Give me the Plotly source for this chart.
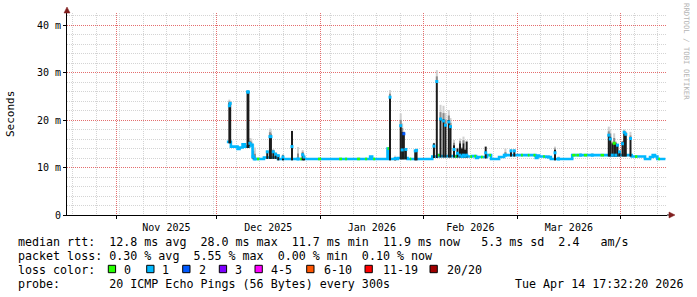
import numpy as np
import pandas as pd
import plotly.graph_objects as go

T0 = pd.Timestamp("2025-11-01 00:00")
RANGE_START_DAY = -14.76
RANGE_END_DAY = 164.88

# ---- baseline median runs (day offset from 2025-11-01, median ms, loss count class) ----
base_day = [33.1, 34.3, 36.3, 36.9, 37.8, 38.5, 39.8, 40.8, 41.2, 42.1, 42.8, 44.2, 48.4,
            55.0, 55.6, 60.4, 61.3, 66.7, 67.6, 68.5, 69.1, 72.1, 73.0, 74.5, 75.1, 76.0,
            76.6, 76.9, 77.5, 81.2, 81.7, 84.3, 87.2, 87.9, 88.3, 94.6, 96.3, 96.8, 101.5,
            102.0, 105.0, 106.0, 106.5, 107.2, 107.7, 108.2, 109.2, 109.7, 111.0, 111.7,
            112.2, 114.6, 116.1, 121.2, 121.7, 123.2, 123.7, 124.9, 125.5, 125.6, 126.1,
            126.6, 127.8, 128.3, 128.6, 130.1, 136.5, 137.5, 137.8, 138.5, 140.0, 141.0,
            145.0, 146.0, 154.3, 155.3, 156.0, 158.3, 159.8, 160.6, 161.3, 162.0, 162.3,
            162.8]
base_ms = [15.4, 14.4, 13.9, 14.2, 14.9, 14.4, 14.8, 12.2, 11.8, 11.8, 11.8, 12.1, 11.8,
           11.8, 11.8, 11.8, 11.8, 11.8, 11.8, 11.8, 11.8, 11.8, 11.8, 11.8, 11.8, 12.3,
           11.8, 11.8, 11.8, 14.0, 11.8, 12.0, 11.8, 11.8, 11.8, 12.3, 12.6, 12.4, 12.3,
           12.4, 12.3, 12.3, 12.4, 12.4, 12.0, 12.2, 12.2, 12.2, 12.6, 12.6,
           11.8, 12.2, 12.6, 12.6, 12.6, 12.6, 12.6, 12.6, 12.5, 12.0, 12.5,
           12.3, 12.3, 12.3, 12.2, 11.8, 12.6, 12.6, 12.6, 12.6, 12.6, 12.6,
           12.6, 12.6, 12.3, 12.3, 12.3, 11.8, 12.2, 12.6, 12.3, 11.8, 11.8,
           11.8]
base_loss = [1, 1, 1, 1, 1, 1, 1, 1, 1, 0, 1, 1, 1,
             0, 1, 0, 1, 0, 1, 0, 1, 0, 1, 0, 1, 1,
             1, 0, 1, 0, 1, 1, 1, 0, 1, 1, 0, 1, 0,
             1, 1, 0, 1, 0, 1, 1, 0, 1, 1, 0,
             1, 1, 1, 0, 1, 0, 1, 0, 1, 1, 1,
             1, 0, 1, 1, 1, 0, 1, 0, 1, 0, 1,
             0, 1, 1, 0, 1, 1, 1, 1, 1, 1, 0,
             1]
data_end_day = 164.4

# ---- short spikes (day, median ms, dense smoke top, smoke top, loss class) ----
spike_day = [33.85, 34.1, 39.3, 39.55, 40.0, 40.4, 41.0, 41.5, 45.2, 46.0, 46.3, 47.0, 47.7,
             48.5, 49.9, 52.6, 54.4, 55.8, 56.2, 81.95, 83.5, 85.15, 85.6, 86.1, 86.7, 89.5,
             89.9, 95.1, 95.96, 97.07, 97.96, 98.56, 99.55, 100.06, 101.11, 102.16, 102.9,
             103.5, 103.95, 104.4, 104.9, 110.6, 116.5, 118.17, 119.16, 129.4, 131.35,
             132.4, 139.0, 142.5, 147.45, 147.9, 148.5, 149.07, 149.55, 150.06, 150.66,
             151.56, 152.07, 152.54, 153.95]
spike_median = [23.0, 23.5, 25.9, 25.9, 15.1, 14.7, 12.3, 11.8, 13.3, 16.5, 16.5, 13.3, 12.8,
                12.5, 12.2, 14.4, 11.8, 12.7, 12.2, 24.8, 11.9, 18.8, 13.7, 17.1, 13.8, 13.5,
                13.6, 14.5, 28.1, 20.2, 19.8, 18.9, 19.6, 18.6, 13.8, 13.0, 12.6,
                12.3, 12.6, 12.4, 12.6, 13.1, 12.6, 13.5, 13.5, 12.2, 13.1,
                11.8, 12.6, 12.6, 16.8, 16.0, 12.6, 15.1, 12.6, 14.7, 13.3,
                15.0, 17.4, 17.0, 16.1]
spike_dark_top = [23.6, 23.5, 26.0, 26.0, 15.1, 14.9, 12.3, 11.8, 13.5, 16.8, 16.6, 13.5, 13.1,
                  12.6, 12.5, 17.7, 11.8, 13.0, 12.2, 24.9, 11.9, 18.9, 17.5, 17.4, 13.8, 13.6,
                  13.8, 15.1, 28.1, 20.4, 20.2, 18.9, 20.0, 18.6, 14.7, 14.0, 15.1,
                  14.0, 15.1, 13.7, 15.4, 14.4, 12.6, 13.7, 13.7, 12.2, 13.7,
                  11.8, 12.6, 12.6, 16.8, 16.5, 15.1, 15.4, 15.1, 14.7, 13.3,
                  15.4, 17.5, 17.2, 16.1]
spike_smoke_top = [24.3, 24.0, 26.3, 26.2, 16.2, 16.1, 14.9, 14.2, 13.5, 18.2, 17.8, 13.9, 13.1,
                   12.6, 12.8, 17.7, 14.3, 13.7, 12.8, 26.3, 12.5, 21.4, 19.3, 17.6, 13.9, 13.8,
                   14.0, 15.2, 30.5, 23.2, 23.0, 21.5, 22.1, 20.4, 15.8, 14.2, 16.1,
                   14.3, 16.5, 14.0, 15.7, 14.4, 14.0, 13.8, 13.8, 12.6, 14.4,
                   12.3, 13.0, 13.0, 18.6, 18.0, 15.5, 17.2, 15.5, 15.0, 13.5,
                   15.6, 18.0, 17.6, 17.5]
spike_loss = [1] * 23 + [2] + [1] * 29 + [0] + [1] * 7

loss_labels = ["0", "1", "2", "3", "4-5", "6-10", "11-19", "20/20"]
loss_colors = ["#26ff00", "#00b8ff", "#0059ff", "#7e00ff", "#ff00ff", "#ff5500", "#ff0000", "#a00000"]

y_tick_vals = [0, 10, 20, 30, 40]
y_tick_text = ["0", "10 m", "20 m", "30 m", "40 m"]

rtt_stats = ["12.8", "28.0", "11.7", "11.9", "5.3", "2.4"]
loss_stats = ["0.30", "5.55", "0.00", "0.10"]
probe_text = "20 ICMP Echo Pings (56 Bytes) every 300s"
stamp_text = "Tue Apr 14 17:32:20 2026"

# ---------------------------------------------------------------------------
W, H = 697, 297
L, R, TOP, BOT = 67, 30, 13, 82
PW, PH = W - L - R, H - TOP - BOT
MS_PER_PX = 1 / 4.75
Y_MAX = PH * MS_PER_PX


def tday(d):
    return T0 + pd.to_timedelta(np.asarray(d, dtype=float), unit="D")


def px(x):
    return (x - L) / PW


def py(y):
    return (TOP + PH - y) / PH


def nb(s):
    return s.replace(" ", "\u00a0")


base_day_a = np.array(base_day)
base_ms_a = np.array(base_ms)
sd = np.array(spike_day)
idx = np.searchsorted(base_day_a, sd, side="right") - 1
spike_base = base_ms_a[idx]

fig = go.Figure()

# light smoke
xs, ys = [], []
for t, lo, hi in zip(tday(sd), spike_dark_top, spike_smoke_top):
    if hi > lo:
        xs += [t, t, None]
        ys += [lo, hi, None]
fig.add_trace(go.Scatter(x=xs, y=ys, mode="lines", line=dict(color="#d0d0d0", width=2),
                         hoverinfo="skip", showlegend=False))
# mid smoke
xs, ys = [], []
for t, lo, hi in zip(tday(sd), spike_dark_top, spike_smoke_top):
    if hi > lo:
        xs += [t, t, None]
        ys += [lo, lo + 0.45 * (hi - lo), None]
fig.add_trace(go.Scatter(x=xs, y=ys, mode="lines", line=dict(color="#8c8c8c", width=2),
                         hoverinfo="skip", showlegend=False))

# baseline median line
bx = list(tday(base_day + [data_end_day]))
by = base_ms + [base_ms[-1]]
fig.add_trace(go.Scatter(x=bx, y=by, mode="lines", line=dict(color=loss_colors[1], width=2.6, shape="hv"),
                         hoverinfo="skip", showlegend=False))
# loss-0 overlays
xs, ys = [], []
ends = base_day[1:] + [data_end_day]
for s, e, v, lc in zip(base_day, ends, base_ms, base_loss):
    if lc == 0:
        xs += list(tday([s, e])) + [None]
        ys += [v, v, None]
fig.add_trace(go.Scatter(x=xs, y=ys, mode="lines", line=dict(color=loss_colors[0], width=2.6),
                         hoverinfo="skip", showlegend=False))

# dense smoke (dark)
xs, ys = [], []
for t, b, top in zip(tday(sd), spike_base, spike_dark_top):
    if top > b:
        xs += [t, t, None]
        ys += [b - 0.3, top, None]
fig.add_trace(go.Scatter(x=xs, y=ys, mode="lines", line=dict(color="#1c1c1c", width=2),
                         hoverinfo="skip", showlegend=False))

# spike medians
fig.add_trace(go.Scatter(x=tday(sd), y=spike_median, mode="markers",
                         marker=dict(symbol="square", size=3, color=[loss_colors[k] for k in spike_loss],
                                     line=dict(width=0)),
                         hoverinfo="skip", showlegend=False))

grid_minor = "rgb(212,212,212)"
grid_major = "rgb(228,110,110)"
font_axis = dict(family="DejaVu Sans Mono", size=10, color="#000000")

# weekly (Sunday) minor grid, skipping weeks that fall on a month start
weeks = pd.date_range("2025-10-19", "2026-04-14", freq="7D")
weeks = [w for w in weeks if w.day != 1]
y_minor = [v for v in np.arange(2, 43, 2) if v % 10 != 0]

fig.update_layout(
    width=W, height=H,
    margin=dict(l=L, r=R, t=TOP, b=BOT, pad=0),
    paper_bgcolor="#ffffff", plot_bgcolor="#ffffff",
    showlegend=False,
    xaxis=dict(
        type="date",
        range=[tday(RANGE_START_DAY), tday(RANGE_END_DAY)],
        tickmode="linear", tick0="2025-11-01", dtick="M1",
        ticklabelmode="period", tickformat="%b %Y",
        showgrid=True, gridcolor=grid_major, griddash="1px,1px", gridwidth=1,
        ticks="outside", ticklen=3, tickcolor="#000000",
        tickfont=font_axis,
        showline=True, linecolor="#000000", linewidth=1,
        zeroline=False,
        minor=dict(tickmode="array", tickvals=weeks, showgrid=True, gridcolor=grid_minor,
                   griddash="1px,1px"),
    ),
    yaxis=dict(
        range=[0, Y_MAX],
        tickmode="array", tickvals=y_tick_vals, ticktext=y_tick_text,
        showgrid=True, gridcolor=grid_major, griddash="1px,1px", gridwidth=1,
        ticks="outside", ticklen=3, tickcolor="#000000",
        tickfont=font_axis,
        showline=True, linecolor="#000000", linewidth=1,
        zeroline=False,
        minor=dict(tickmode="array", tickvals=y_minor, showgrid=True, gridcolor=grid_minor,
                   griddash="1px,1px"),
    ),
)

annotations = []
shapes = []

# y title
annotations.append(dict(x=px(10), y=py(114), xref="paper", yref="paper", text="Seconds",
                        textangle=-90, showarrow=False, xanchor="center", yanchor="middle",
                        font=dict(family="DejaVu Sans Mono", size=11, color="#000000")))
# watermark
annotations.append(dict(x=px(686.5), y=py(51.5), xref="paper", yref="paper",
                        text=nb("RRDTOOL / TOBI OETIKER"), textangle=90, showarrow=False,
                        xanchor="center", yanchor="middle",
                        font=dict(family="DejaVu Sans Mono", size=7.3, color="#b4b4b4")))

LF = dict(family="DejaVu Sans Mono", size=11.66, color="#000000")
line1 = ("median rtt:  {} ms avg  {} ms max  {} ms min  {} ms now  {:>4} ms sd  {}   am/s"
         .format(*rtt_stats))
line2 = "packet loss: {} % avg  {} % max  {} % min  {} % now".format(*loss_stats)
line4 = "probe:       " + probe_text
for text, yy in [(line1, 242), (line2, 256), ("loss color:", 270), (line4, 284)]:
    annotations.append(dict(x=px(16), y=py(yy), xref="paper", yref="paper", text=nb(text),
                            showarrow=False, xanchor="left", yanchor="middle", font=LF))
annotations.append(dict(x=px(513.3), y=py(284), xref="paper", yref="paper", text=nb(stamp_text),
                        showarrow=False, xanchor="left", yanchor="middle", font=LF))

box_x = [108.3, 146.7, 182.7, 219.3, 255.0, 306.7, 365.0, 430.0]
label_x = [121.7, 160.0, 196.7, 233.3, 269.3, 321.7, 380.7, 445.0]
for bxp, lxp, lab, col in zip(box_x, label_x, loss_labels, loss_colors):
    shapes.append(dict(type="rect", xref="paper", yref="paper",
                       x0=px(bxp), x1=px(bxp + 7.3), y0=py(272.7), y1=py(265.3),
                       fillcolor=col, line=dict(color="#000000", width=1)))
    annotations.append(dict(x=px(lxp), y=py(270), xref="paper", yref="paper", text=nb(lab),
                            showarrow=False, xanchor="left", yanchor="middle", font=LF))

# axis arrows
arrow_col = "#801f1f"


def path(points):
    return "M " + " L ".join("{:.5f},{:.5f}".format(px(a), py(b)) for a, b in points) + " Z"


shapes.append(dict(type="path", xref="paper", yref="paper",
                   path=path([(64.0, 13.0), (70.0, 13.0), (67.0, 7.0)]),
                   fillcolor=arrow_col, line=dict(color=arrow_col, width=0.5)))
shapes.append(dict(type="line", xref="paper", yref="paper", x0=px(667), x1=px(670),
                   y0=py(215), y1=py(215), line=dict(color="#000000", width=1)))
shapes.append(dict(type="path", xref="paper", yref="paper",
                   path=path([(669.0, 212.0), (669.0, 218.0), (675.0, 215.0)]),
                   fillcolor=arrow_col, line=dict(color=arrow_col, width=0.5)))

fig.update_layout(annotations=annotations, shapes=shapes)
fig.write_html("out.html")
